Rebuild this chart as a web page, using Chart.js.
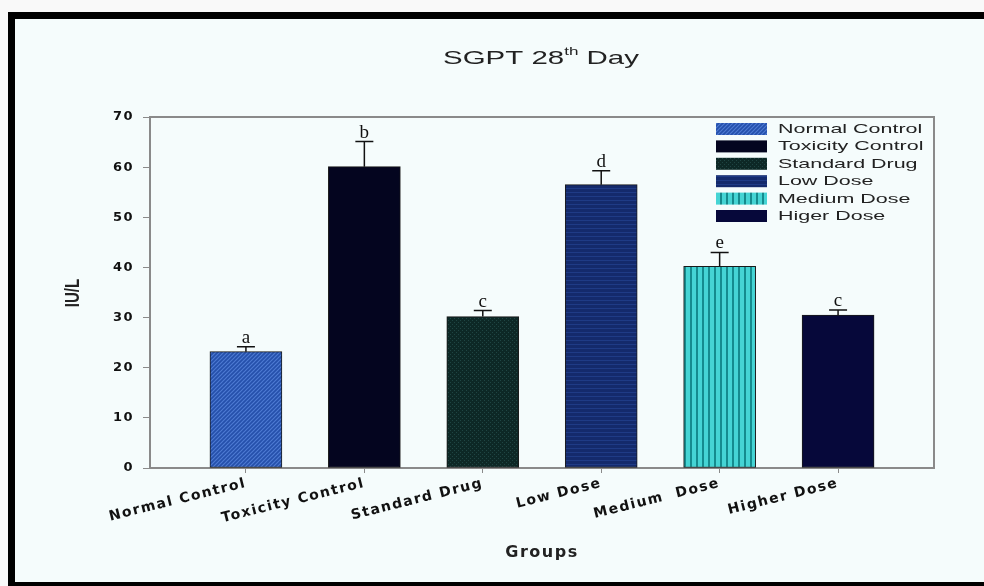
<!DOCTYPE html>
<html>
<head>
<meta charset="utf-8">
<script src="https://cdn.jsdelivr.net/npm/chart.js@4"></script>
<style>
  body { margin: 0; background: #f9f9f9; width: 984px; height: 586px; overflow: hidden; position: relative; }
  #frame { position: absolute; left: 8px; top: 12px; width: 1000px; height: 563px;
           border-left: 7px solid #000; border-top: 7px solid #000; border-bottom: 4px solid #000;
           background: #f5fcfc; }
  #chart { position: absolute; left: 0; top: 0; }
</style>
</head>
<body>
<div id="frame"></div>
<canvas id="chart" width="984" height="586"></canvas>
<script>
// group names on the x axis and in the legend (legend keeps its own spelling)
var categories = ['Normal Control', 'Toxicity Control', 'Standard Drug', 'Low Dose', 'Medium  Dose', 'Higher Dose'];
var legendNames = ['Normal Control', 'Toxicity Control', 'Standard Drug', 'Low Dose', 'Medium Dose', 'Higer Dose'];
var meanValues = [23.2, 60.1, 30.2, 56.5, 40.2, 30.5];
var errorValues = [1.0, 5.0, 1.2, 2.8, 2.8, 1.0];
var letters = ['a', 'b', 'c', 'd', 'e', 'c'];
var yTicks = [0, 10, 20, 30, 40, 50, 60, 70];

var FONT = "'Liberation Sans', Arial, sans-serif";
var WIDE = "'DejaVu Sans', Verdana, sans-serif";

function makePattern(base, line, kind) {
    var c = document.createElement('canvas');
    var size = kind === 'vert' ? 6 : 4;
    c.width = size;
    c.height = size;
    var g = c.getContext('2d');
    g.fillStyle = base;
    g.fillRect(0, 0, size, size);
    g.fillStyle = line;
    g.strokeStyle = line;
    if (kind === 'diag') {
        g.lineWidth = 1.2;
        g.beginPath();
        g.moveTo(0, size); g.lineTo(size, 0);
        g.moveTo(-1, 1); g.lineTo(1, -1);
        g.moveTo(size - 1, size + 1); g.lineTo(size + 1, size - 1);
        g.stroke();
    } else if (kind === 'dots') {
        g.fillRect(0, 0, 1, 1);
        g.fillRect(2, 2, 1, 1);
    } else if (kind === 'horiz') {
        g.fillRect(0, 0, size, 1);
    } else if (kind === 'vert') {
        g.fillRect(0, 0, 2, size);
    }
    return g.createPattern(c, 'repeat');
}

var ctx = document.getElementById('chart').getContext('2d');

var fills = [
    makePattern('#2550ab', '#4d7ad2', 'diag'),
    '#04051f',
    makePattern('#0d2826', '#1f4543', 'dots'),
    makePattern('#142a6c', '#1f3b86', 'horiz'),
    makePattern('#45d4d4', '#158b8e', 'vert'),
    '#06083a'
];

var datasets = categories.map(function (name, i) {
    return {
        label: legendNames[i],
        data: [{x: i, y: meanValues[i]}],
        backgroundColor: fills[i],
        borderColor: '#1a1a1a',
        borderWidth: 1,
        borderSkipped: false,
        barThickness: 72,
        grouped: false
    };
});

// text drawn stretched sideways like the source picture
function wideText(c, text, x, y, sx) {
    c.save();
    c.translate(x, y);
    c.scale(sx, 1);
    c.fillText(text, 0, 0);
    c.restore();
}

// error bars, letters, plot frame, title and legend
var extras = {
    id: 'extras',
    beforeDraw: function (chart) {
        chart.ctx.letterSpacing = '1.5px';
    },
    beforeDatasetsDraw: function (chart) {
        var a = chart.chartArea;
        var c = chart.ctx;
        c.save();
        c.strokeStyle = '#8a8a8a';
        c.lineWidth = 2;
        c.strokeRect(a.left, a.top, a.right - a.left, a.bottom - a.top);
        c.restore();
    },
    afterDatasetsDraw: function (chart) {
        var c = chart.ctx;
        var xs = chart.scales.x;
        var ys = chart.scales.y;
        c.save();
        c.letterSpacing = '0px';
        meanValues.forEach(function (v, i) {
            var x = xs.getPixelForValue(i);
            var yTop = ys.getPixelForValue(v);
            var yErr = ys.getPixelForValue(v + errorValues[i]);
            c.strokeStyle = '#111';
            c.lineWidth = 1.5;
            c.beginPath();
            c.moveTo(x, yTop);
            c.lineTo(x, yErr);
            c.moveTo(x - 9, yErr);
            c.lineTo(x + 9, yErr);
            c.stroke();
            c.fillStyle = '#111';
            c.font = "19px 'Liberation Serif', 'Times New Roman', serif";
            c.textAlign = 'center';
            c.textBaseline = 'alphabetic';
            c.fillText(letters[i], x, yErr - 4);
        });

        // legend inside the plot, top right
        var lx = 716, ly = 123, row = 17.4;
        c.font = '13px ' + FONT;
        c.textAlign = 'left';
        c.textBaseline = 'middle';
        chart.data.datasets.forEach(function (ds, i) {
            var y = ly + i * row;
            c.fillStyle = ds.backgroundColor;
            c.fillRect(lx, y, 51, 12);
            c.fillStyle = '#222';
            wideText(c, ds.label, lx + 62, y + 6.5, 1.65);
        });

        // y axis title
        c.save();
        c.font = 'bold 15px ' + FONT;
        c.fillStyle = '#222';
        c.textAlign = 'center';
        c.translate(73, 293);
        c.rotate(-Math.PI / 2);
        c.scale(1, 1.4);
        c.fillText('IU/L', 0, 0);
        c.restore();

        // title with superscript
        c.fillStyle = '#222';
        c.textBaseline = 'alphabetic';
        c.textAlign = 'left';
        var sx = 1.55;
        var p1 = 'SGPT 28', p3 = ' Day';
        c.font = '19px ' + FONT;
        var w1 = c.measureText(p1).width * sx, w3 = c.measureText(p3).width * sx;
        c.font = '11px ' + FONT;
        var w2 = c.measureText('th').width * sx;
        var x0 = 541 - (w1 + w2 + w3) / 2;
        c.font = '19px ' + FONT;
        wideText(c, p1, x0, 64, sx);
        c.font = '11px ' + FONT;
        wideText(c, 'th', x0 + w1, 55, sx);
        c.font = '19px ' + FONT;
        wideText(c, p3, x0 + w1 + w2, 64, sx);
        c.restore();
    }
};

new Chart(ctx, {
    type: 'bar',
    data: {datasets: datasets},
    options: {
        responsive: false,
        animation: false,
        devicePixelRatio: 1,
        layout: {padding: {left: 0, right: 50, top: 117, bottom: 0}},
        plugins: {legend: {display: false}, tooltip: {enabled: false}},
        scales: {
            x: {
                type: 'linear',
                offset: false,
                min: -0.81,
                max: 5.81,
                afterBuildTicks: function (scale) {
                    scale.ticks = categories.map(function (c, i) { return {value: i}; });
                },
                afterFit: function (scale) { scale.height = 118; },
                grid: {display: true, offset: false, drawOnChartArea: false, tickLength: 5, color: '#8a8a8a'},
                border: {display: true, color: '#8a8a8a', width: 2},
                ticks: {
                    autoSkip: false,
                    minRotation: 14,
                    maxRotation: 14,
                    padding: 2,
                    color: '#111',
                    font: {family: WIDE, size: 14, weight: 'bold'},
                    callback: function (v) { return categories[v]; }
                },
                title: {
                    display: true,
                    text: 'Groups',
                    color: '#222',
                    font: {family: WIDE, size: 16, weight: 'bold'},
                    padding: {top: 0, bottom: 24}
                }
            },
            y: {
                min: 0,
                max: 70,
                afterBuildTicks: function (scale) {
                    scale.ticks = yTicks.map(function (t) { return {value: t}; });
                },
                afterFit: function (scale) { scale.width = 150; },
                grid: {display: true, drawOnChartArea: false, tickLength: 7, color: '#8a8a8a'},
                border: {display: true, color: '#8a8a8a', width: 2},
                ticks: {
                    padding: 9,
                    color: '#111',
                    font: {family: WIDE, size: 13, weight: 'bold'}
                },
                title: {display: false, text: 'IU/L'}
            }
        }
    },
    plugins: [extras]
});
</script>
</body>
</html>
